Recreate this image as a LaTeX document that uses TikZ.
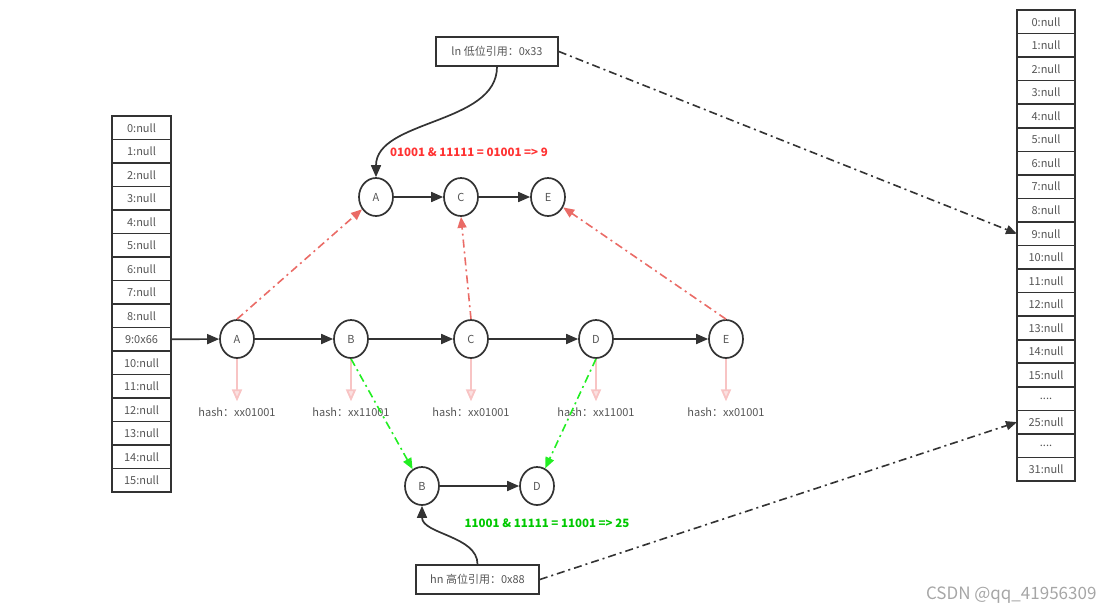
\documentclass[tikz,border=0pt]{standalone}
\usepackage{fontspec}
\setmainfont{Noto Sans CJK SC}
\usetikzlibrary{arrows.meta,shapes.geometric}
\newcommand\celldots{....}
\definecolor{ink}{HTML}{333333}
\definecolor{txt}{HTML}{555555}
\definecolor{redl}{HTML}{EA6B66}
\definecolor{redt}{HTML}{FF3333}
\definecolor{greenl}{HTML}{22EE22}
\definecolor{greent}{HTML}{00C800}
\definecolor{pinkl}{HTML}{F8C4C4}
\tikzset{
  cell/.style={draw=ink,line width=1.6pt,minimum width=59pt,minimum height=23.5pt,inner sep=0pt,outer sep=0pt,text=txt,font=\fontsize{11}{13}\selectfont},
  nd/.style={ellipse,draw=ink,line width=1.7pt,minimum width=34pt,minimum height=38pt,inner sep=0pt,text=txt,font=\fontsize{11}{13}\selectfont},
  refbox/.style={draw=ink,line width=1.7pt,minimum width=122pt,minimum height=29pt,inner sep=0pt,text=txt,font=\fontsize{11}{13}\selectfont},
  hashlbl/.style={text=txt,font=\fontsize{11}{13}\selectfont,inner sep=1pt},
  link/.style={draw=ink,line width=1.7pt,-{Triangle[length=12pt,width=10pt]}},
  dashdot/.style={line width=1.6pt,dash pattern=on 8pt off 4pt on 2pt off 4pt},
  redarrow/.style={dashdot,draw=redl,-{Triangle[length=11pt,width=9pt,fill=redl]}},
  greenarrow/.style={dashdot,draw=greenl,-{Triangle[length=11pt,width=9pt,fill=greenl]}},
  blackarrow/.style={dashdot,draw=ink,-{Triangle[length=11pt,width=9pt,fill=ink]}},
  pinkarrow/.style={draw=pinkl,line width=1.8pt,-{Triangle[length=12pt,width=10pt,fill=pinkl!50]}},
  calc/.style={font=\bfseries\fontsize{11.5}{13}\selectfont,inner sep=0pt}
}
\begin{document}
\begin{tikzpicture}[x=1pt,y=-1pt]
\useasboundingbox (0,0) rectangle (1116,614);
% left table
\foreach \t [count=\i from 0] in {0:null,1:null,2:null,3:null,4:null,5:null,6:null,7:null,8:null,9:0x66,10:null,11:null,12:null,13:null,14:null,15:null}
  \node[cell] (L\i) at (141.5,{116+23.5*(\i+0.5)}) {\t};
% right table
\foreach \t [count=\i from 0] in {0:null,1:null,2:null,3:null,4:null,5:null,6:null,7:null,8:null,9:null,10:null,11:null,12:null,13:null,14:null,15:null,\celldots,25:null,\celldots,31:null}
  \node[cell,minimum width=58pt,minimum height=23.55pt] (R\i) at (1046,{10+23.55*(\i+0.5)}) {\t};
% middle row
\node[nd] (mA) at (237,339) {A};
\node[nd] (mB) at (351,339) {B};
\node[nd] (mC) at (471,339) {C};
\node[nd] (mD) at (596,339) {D};
\node[nd] (mE) at (726,339) {E};
% top row
\node[nd] (tA) at (376,197) {A};
\node[nd] (tC) at (461,197) {C};
\node[nd] (tE) at (548,197) {E};
% bottom row
\node[nd] (bB) at (422,486) {B};
\node[nd] (bD) at (537,486) {D};
% boxes
\node[refbox] (ln) at (497,51.5) {ln 低位引用：0x33};
\node[refbox,minimum width=123pt] (hn) at (477.5,579.5) {hn 高位引用：0x88};
% hash labels
\node[hashlbl] (hA) at (237,412) {hash：xx01001};
\node[hashlbl] (hB) at (351,412) {hash：xx11001};
\node[hashlbl] (hC) at (471,412) {hash：xx01001};
\node[hashlbl] (hD) at (596,412) {hash：xx11001};
\node[hashlbl] (hE) at (726,412) {hash：xx01001};
% calc labels
\node[calc,text=redt] (rl) at (469,152) {01001 \& 11111 = 01001 => 9};
\node[calc,text=greent] (gl) at (547,523) {11001 \& 11111 = 11001 => 25};
% links
\draw[link] (L9.east) -- (mA);
\draw[link] (mA) -- (mB);
\draw[link] (mB) -- (mC);
\draw[link] (mC) -- (mD);
\draw[link] (mD) -- (mE);
\draw[link] (tA) -- (tC);
\draw[link] (tC) -- (tE);
\draw[link] (bB) -- (bD);
\draw[link] (ln.south) to[out=-90,in=90,looseness=0.9] (tA.north);
\draw[link] (hn.north) to[out=90,in=-90,looseness=0.9] (bB.south);
% pink arrows
\foreach \n in {A,B,C,D,E}
  \draw[pinkarrow] (m\n.south) -- ([yshift=5pt]h\n.north);
% red
\draw[redarrow] (mA.north) -- (tA);
\draw[redarrow] (mC.north) -- (tC.south);
\draw[redarrow] (mE.north) -- (tE);
% green
\draw[greenarrow] (mB.south) -- (bB);
\draw[greenarrow] (mD.south) -- (bD);
% black dash-dot
\draw[blackarrow] (ln.east) -- (R9.west);
\draw[blackarrow] (hn.east) -- (R17.west);
% watermark
\node[text=black!35,font=\fontsize{17}{20}\selectfont,anchor=east] (wm) at (1100,595) {CSDN @qq\_41956309};
\end{tikzpicture}
\end{document}
